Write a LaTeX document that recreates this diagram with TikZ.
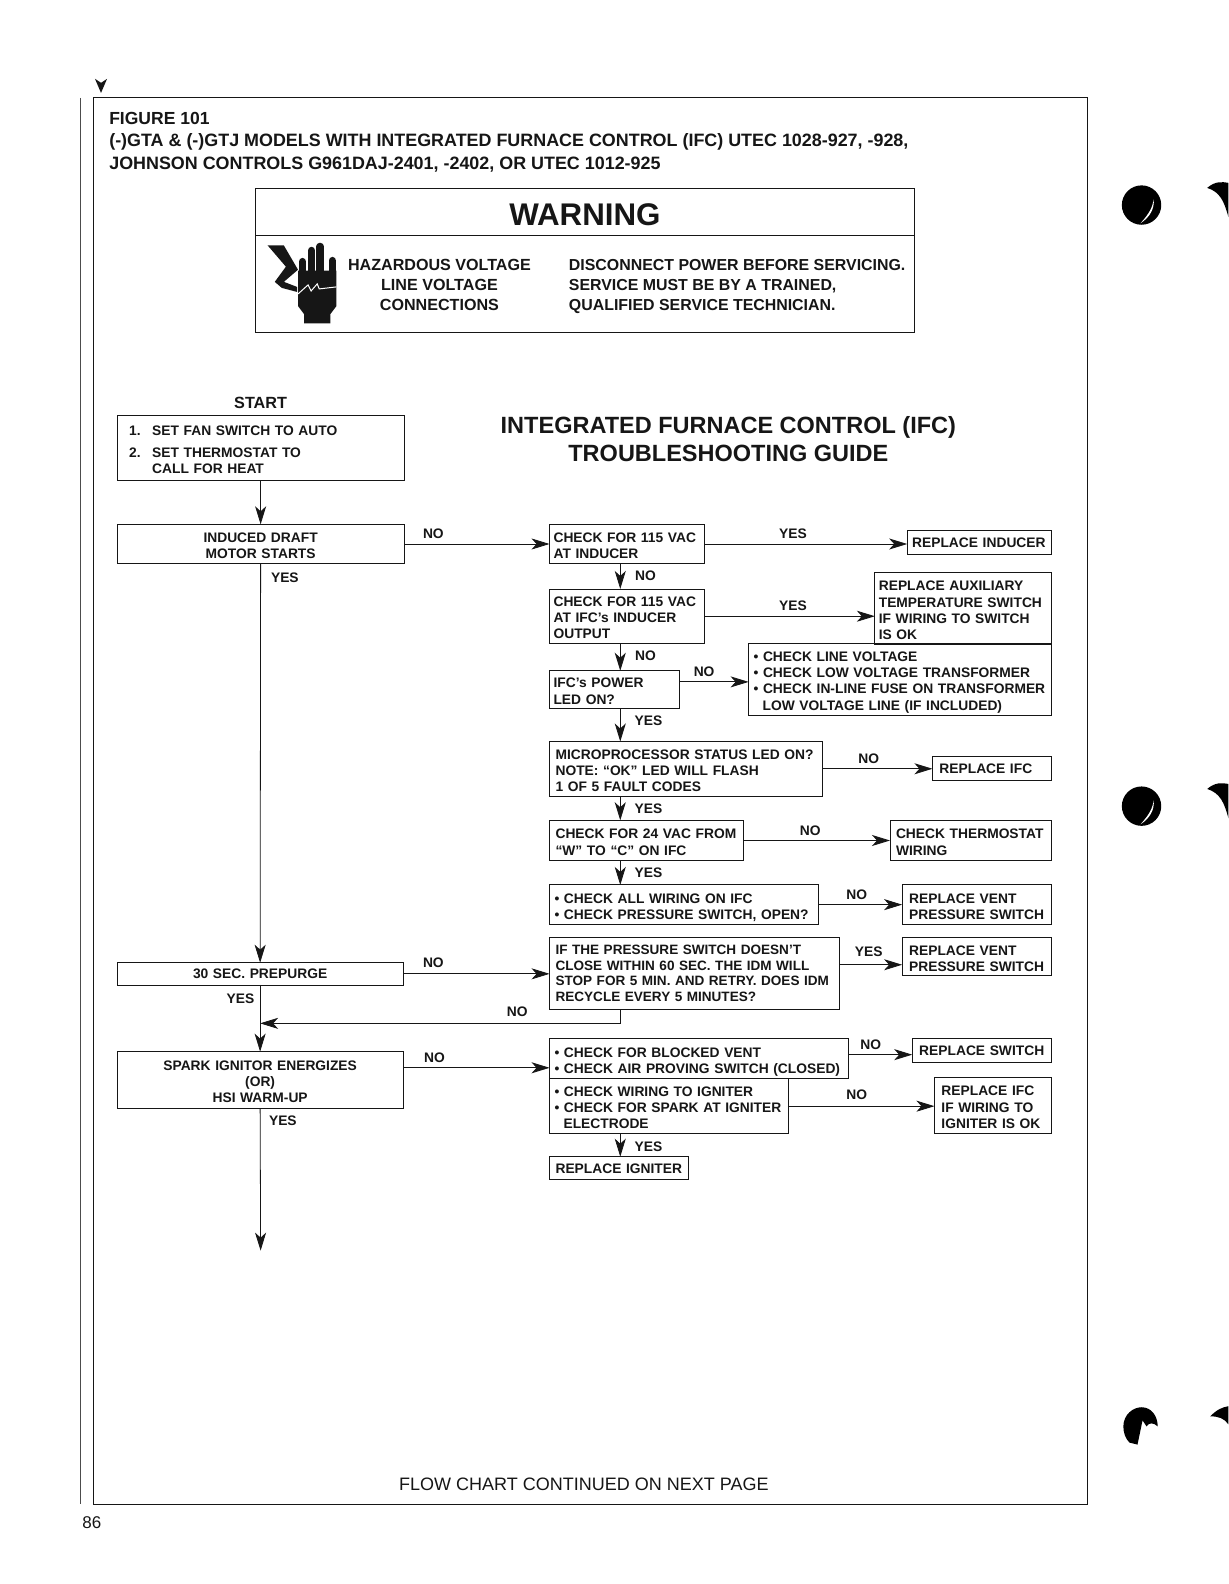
\documentclass[tikz,border=0pt]{standalone}
\usepackage{fontspec}
\setmainfont{Liberation Sans}
\usetikzlibrary{arrows.meta,calc}
\definecolor{ink}{HTML}{161616}
\newcommand{\flowbox}[8][]{%
  \pgfmathsetmacro{\bw}{(#5-#3)*1.00987}%
  \pgfmathsetmacro{\bh}{(#6-#4)*1.00987}%
  \pgfmathsetmacro{\btw}{\bw-2*#7}%
  \node[boxst,minimum width=\bw pt,minimum height=\bh pt,text width=\btw pt,inner xsep=#7 pt,#1] (#2) at ({(#3+#5)/2},{(#4+#6)/2}) {#8};%
}
\newcommand{\ts}{\rule{0pt}{16pt}}
\newcommand{\bs}{\rule[-3pt]{0pt}{3pt}}
\newcommand{\lab}[3]{\node[labst] (#1) at (#2) {#3};}
\tikzset{
  boxst/.style={draw=ink,line width=0.9pt,inner ysep=0pt,outer sep=0pt,align=left,text=ink,
    font=\fontsize{13.8}{16.2}\selectfont\bfseries},
  labst/.style={text=ink,inner sep=0pt,font=\fontsize{13.8}{16}\selectfont\bfseries},
  headst/.style={text=ink,inner sep=0pt,anchor=base west,font=\fontsize{17.9}{20}\selectfont\bfseries},
  warnst/.style={text=ink,inner sep=0pt,anchor=base,font=\fontsize{16.1}{20}\selectfont\bfseries},
  warnrt/.style={text=ink,inner sep=0pt,anchor=base west,font=\fontsize{15.9}{20}\selectfont\bfseries},
  flow/.style={draw=ink,line width=0.8pt,-{Stealth[length=18pt,width=11pt,inset=5pt]}},
  frameln/.style={draw=ink,line width=1pt},
}
\begin{document}
\begin{tikzpicture}[x=1.00987pt,y=-1.00987pt]
\useasboundingbox (0,0) rectangle (1216,1568);
\fill[white] (0,0) rectangle (1216,1568);
% page frame
\draw[frameln] (93,1489) -- (93,97) -- (1076.5,97) -- (1076.5,1489) -- cycle;
\draw[draw=black!70,line width=1.2pt] (80,97) -- (80,1489);
\fill[ink] (94,78) -- (100,82) -- (106,78) -- (100,92) -- cycle;
% heading
\node[headst,font=\fontsize{17.5}{20}\selectfont\bfseries] (h1) at (108,123) {FIGURE 101};
\node[headst] (h2) at (108,145.5) {(-)GTA \& (-)GTJ MODELS WITH INTEGRATED FURNACE CONTROL (IFC) UTEC 1028-927, -928,};
\node[headst] (h3) at (108,167.5) {JOHNSON CONTROLS G961DAJ-2401, -2402, OR UTEC 1012-925};
% warning panel
\draw[frameln] (253,187) rectangle (905,329);
\draw[frameln] (253,233) -- (905,233);
\node[text=ink,inner sep=0pt,font=\fontsize{31.3}{34}\selectfont\bfseries] (warn) at (579,213) {WARNING};
% hand symbol
\fill[ink] (265,243) -- (281,243) -- (295,267) -- (281,279) -- (294,284) -- (294,289) -- (279,285) -- (272,279) -- (283,264) -- cycle;
\fill[ink] (295,268) -- (333,268) -- (333,303) -- (327,311) -- (327,320) -- (301,320) -- (301,311) -- (295,303) -- cycle;
\foreach \fx/\fy in {299.5/259,308.5/248,317/244,329/258}
  \draw[ink,line width=7.5pt,line cap=round] (\fx,\fy) -- (\fx,275);
\draw[white,line width=1pt] (295,291) -- (305,282) -- (308,288) -- (314,281) -- (316,286) -- (333,284);
\node[warnst] (w1) at (435,268) {HAZARDOUS VOLTAGE};
\node[warnst] (w2) at (435,288) {LINE VOLTAGE};
\node[warnst] (w3) at (435,307) {CONNECTIONS};
\node[warnrt] (w4) at (563,268) {DISCONNECT POWER BEFORE SERVICING.};
\node[warnrt] (w5) at (563,288) {SERVICE MUST BE BY A TRAINED,};
\node[warnrt] (w6) at (563,307) {QUALIFIED SERVICE TECHNICIAN.};
% title
\node[text=ink,inner sep=0pt,align=center,font=\fontsize{23.5}{27.5}\selectfont\bfseries] (title) at (721,434.5) {INTEGRATED FURNACE CONTROL (IFC)\\TROUBLESHOOTING GUIDE};
\node[labst,font=\fontsize{16.2}{18}\selectfont\bfseries] (start) at (258,399) {START};
% left column
\flowbox{setup}{116}{411}{400}{476}{12}{\ts\makebox[23pt][l]{1.}SET FAN SWITCH TO AUTO\\[6pt]\makebox[23pt][l]{2.}SET THERMOSTAT TO\\\makebox[23pt][l]{}CALL FOR HEAT\bs}
\flowbox[align=center]{induced}{116}{519}{400}{558}{4}{\ts INDUCED DRAFT\\MOTOR STARTS\bs}
\flowbox[align=center]{prep}{116}{953}{399}{975}{4}{30 SEC. PREPURGE}
\flowbox[align=center]{spark}{116}{1041}{399}{1097}{4}{\ts SPARK IGNITOR ENERGIZES\\(OR)\\HSI WARM-UP\bs}
% middle column
\flowbox{chka}{544}{519}{697}{558}{4}{\ts CHECK FOR 115 VAC\\AT INDUCER\bs}
\flowbox{chkb}{544}{583}{697}{637}{4}{\ts CHECK FOR 115 VAC\\AT IFC's INDUCER\\OUTPUT\bs}
\flowbox{power}{544}{664}{673}{701}{4}{\ts IFC's POWER\\LED ON?\bs}
\flowbox{micro}{544}{734}{814}{788}{6}{\ts MICROPROCESSOR STATUS LED ON?\\NOTE: ``OK'' LED WILL FLASH\\1 OF 5 FAULT CODES\bs}
\flowbox{vac}{544}{812}{736}{852}{6}{\ts CHECK FOR 24 VAC FROM\\``W'' TO ``C'' ON IFC\bs}
\flowbox{wiring}{544}{876}{810}{915}{5}{\ts • CHECK ALL WIRING ON IFC\\• CHECK PRESSURE SWITCH, OPEN?\bs}
\flowbox[font=\fontsize{13.55}{15.9}\selectfont\bfseries]{press}{544}{928}{831}{999}{6}{\mbox{IF THE PRESSURE SWITCH DOESN'T}\\\mbox{CLOSE WITHIN 60 SEC. THE IDM WILL}\\\mbox{STOP FOR 5 MIN. AND RETRY. DOES IDM}\\\mbox{RECYCLE EVERY 5 MINUTES?}}
\flowbox{blocked}{544}{1028}{840}{1068}{5}{\ts • CHECK FOR BLOCKED VENT\\\mbox{• CHECK AIR PROVING SWITCH (CLOSED)}\bs}
\flowbox{ign}{544}{1068}{780}{1122}{5}{\ts • CHECK WIRING TO IGNITER\\• CHECK FOR SPARK AT IGNITER\\\hspace*{9pt}ELECTRODE\bs}
\flowbox{repign}{544}{1145}{681}{1168}{6}{\mbox{REPLACE IGNITER}}
% right column
\flowbox{repind}{898}{525}{1041}{549}{5}{\mbox{REPLACE INDUCER}}
\flowbox{aux}{866}{567}{1041}{638}{4}{\ts REPLACE AUXILIARY\\TEMPERATURE SWITCH\\IF WIRING TO SWITCH\\IS OK\bs}
\flowbox{line}{741}{637}{1041}{708}{5}{\ts • CHECK LINE VOLTAGE\\• CHECK LOW VOLTAGE TRANSFORMER\\\mbox{• CHECK IN-LINE FUSE ON TRANSFORMER}\\\hspace*{9pt}LOW VOLTAGE LINE (IF INCLUDED)\bs}
\flowbox{repifc}{923}{749}{1041}{773}{7}{REPLACE IFC}
\flowbox{therm}{881}{812}{1041}{852}{6}{\ts CHECK THERMOSTAT\\WIRING\bs}
\flowbox{venta}{893}{876}{1041}{915}{7}{\ts REPLACE VENT\\PRESSURE SWITCH\bs}
\flowbox{ventb}{893}{928}{1041}{966}{7}{\ts REPLACE VENT\\PRESSURE SWITCH\bs}
\flowbox{repsw}{903}{1028}{1041}{1052}{7}{REPLACE SWITCH}
\flowbox{repifcb}{925}{1067}{1041}{1122}{7}{\ts REPLACE IFC\\IF WIRING TO\\IGNITER IS OK\bs}
% connector helpers
\coordinate (col) at (614,0);
\coordinate (fb) at (614,1013);
\coordinate (leftend) at (258,1238);
\coordinate (rowpower) at (0,675);
\coordinate (rowpress) at (0,955);
\coordinate (rowsw) at (0,1044);
\coordinate (rowspark) at (0,1057);
% connectors
\draw[flow] (setup.south) -- (induced.north);
\draw[flow] (induced.south) -- (prep.north);
\draw[flow] (prep.south) -- (spark.north);
\draw[flow] (spark.south) -- (leftend);
\draw[flow] (induced.east) -- (chka.west);
\draw[flow] (prep.east) -- (prep.east -| press.west);
\draw[flow] (spark.east |- rowspark) -- (blocked.west |- rowspark);
\draw[flow] (chka.east) -- (chka.east -| repind.west);
\draw[flow] (chkb.east) -- (chkb.east -| aux.west);
\draw[flow] (power.east |- rowpower) -- (line.west |- rowpower);
\draw[flow] (micro.east) -- (repifc.west);
\draw[flow] (vac.east) -- (therm.west);
\draw[flow] (wiring.east) -- (venta.west);
\draw[flow] (press.east |- rowpress) -- (ventb.west |- rowpress);
\draw[flow] (blocked.east |- rowsw) -- (repsw.west |- rowsw);
\draw[flow] (ign.east) -- (ign.east -| repifcb.west);
\draw[flow] (col |- chka.south) -- (col |- chkb.north);
\draw[flow] (col |- chkb.south) -- (col |- power.north);
\draw[flow] (col |- power.south) -- (col |- micro.north);
\draw[flow] (col |- micro.south) -- (col |- vac.north);
\draw[flow] (col |- vac.south) -- (col |- wiring.north);
\draw[flow] (col |- ign.south) -- (col |- repign.north);
\draw[flow] (fb |- press.south) -- (fb) -- (prep.south |- fb);
% connector labels
\lab{l1}{429,528}{NO}
\lab{l2}{282,572}{YES}
\lab{l3}{785,528}{YES}
\lab{l4}{639,570}{NO}
\lab{l5}{785,600}{YES}
\lab{l6}{639,649}{NO}
\lab{l7}{697,665}{NO}
\lab{l8}{642,713}{YES}
\lab{l9}{860,751}{NO}
\lab{l10}{642,801}{YES}
\lab{l11}{802,822}{NO}
\lab{l12}{642,864}{YES}
\lab{l13}{848,886}{NO}
\lab{l14}{860,942}{YES}
\lab{l15}{429,953}{NO}
\lab{l16}{238,989}{YES}
\lab{l17}{512,1002}{NO}
\lab{l18}{430,1047}{NO}
\lab{l19}{862,1034}{NO}
\lab{l20}{848,1084}{NO}
\lab{l21}{280,1109}{YES}
\lab{l22}{642,1135}{YES}
% foot
\node[text=ink,inner sep=0pt,font=\fontsize{18}{20}\selectfont] (foot) at (578,1469) {FLOW CHART CONTINUED ON NEXT PAGE};
\node[text=ink,inner sep=0pt,font=\fontsize{17}{20}\selectfont] (page) at (91,1507) {86};
% punch holes
\foreach \py in {203,798}{
  \fill[black] (1130,\py) circle (19.5);
  \fill[white] (1142,\py-6) .. controls (1143,\py+4) and (1138,\py+12) .. (1129,\py+18) .. controls (1138,\py+8) and (1141,\py+2) .. (1142,\py-6) -- cycle;
  \fill[black] (1195,\py-17) .. controls (1203,\py-24) and (1210,\py-23) .. (1216,\py-22) -- (1216,\py+12) .. controls (1212,\py-3) and (1208,\py-13) .. (1195,\py-17) -- cycle;
}
\fill[black] (1112,1412) .. controls (1112,1400) and (1122,1393) .. (1130,1393) .. controls (1140,1393) and (1146,1402) .. (1146,1412) .. controls (1142,1408) and (1137,1408) .. (1135,1412) -- (1131,1406) -- (1126,1430) -- (1118,1428) .. controls (1114,1424) and (1112,1418) .. (1112,1412) -- cycle;
\fill[black] (1198,1402) .. controls (1205,1395) and (1210,1393) .. (1216,1392) -- (1216,1410) .. controls (1212,1404) and (1206,1402) .. (1198,1402) -- cycle;
\end{tikzpicture}
\end{document}
